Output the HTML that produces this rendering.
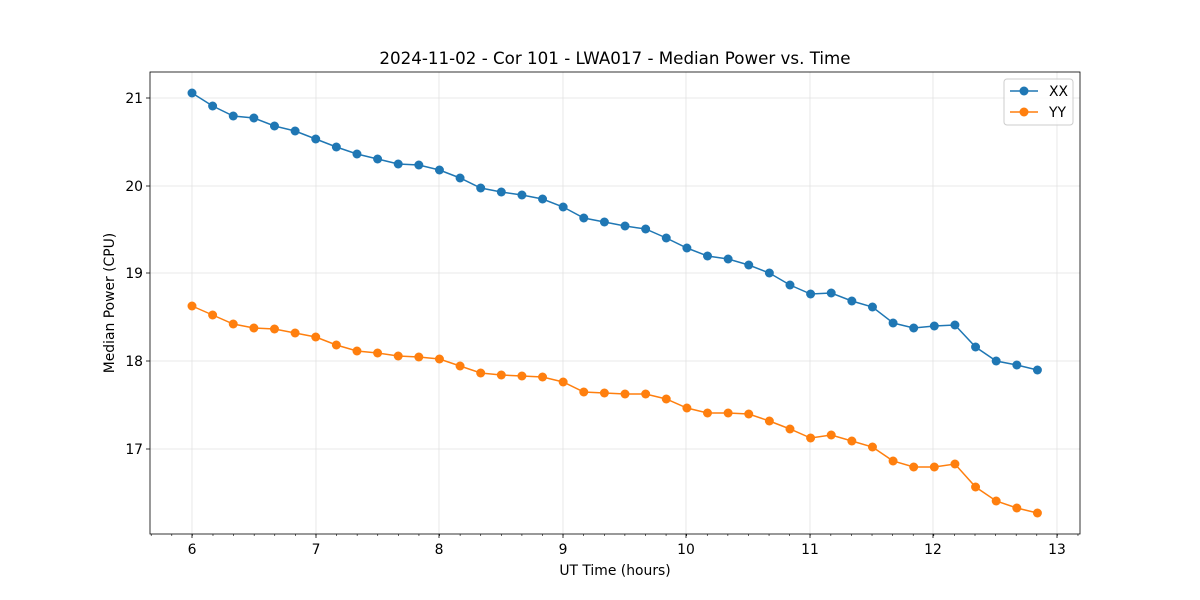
<!DOCTYPE html><html><head><style>body{margin:0;background:#fff}svg{display:block}text{font-family:"DejaVu Sans","Liberation Sans",sans-serif;fill:#000}</style></head><body>
<svg id="s" width="1200" height="600" xmlns="http://www.w3.org/2000/svg"></svg>
<script>
const XX=[93,106,116,118,126,131,139,147,154,159,164,165,170,178,188,192,195,199,207,218,222,226,229,238,248,256,259,265,273,285,294,293,301,307,323,328,326,325,347,361,365,370];
const YY=[306,315,324,328,329,333,337,345,351,353,356,357,359,366,373,375,376,377,382,392,393,394,394,399,408,413,413,414,421,429,438,435,441,447,461,467,467,464,487,501,508,513];
const X=i=>192+i*20.62;
let h='<rect width="1200" height="600" fill="#fff"/>';
const xt=[[6,192],[7,316],[8,439],[9,563],[10,686],[11,810],[12,933],[13,1057]];
const yt=[[21,98],[20,186],[19,273],[18,361],[17,449]];
for(const[t,x]of xt)h+=`<line x1="${x}" y1="72" x2="${x}" y2="534" stroke="#e2e2e2" stroke-width="0.8"/>`;
for(const[t,y]of yt)h+=`<line x1="150" y1="${y}" x2="1080" y2="${y}" stroke="#e2e2e2" stroke-width="0.8"/>`;
for(const[d,c]of[[XX,'#1f77b4'],[YY,'#ff7f0e']]){
h+=`<polyline fill="none" stroke="${c}" stroke-width="1.5" points="${d.map((y,i)=>X(i)+','+y).join(' ')}"/>`;
d.forEach((y,i)=>h+=`<circle cx="${X(i)}" cy="${y}" r="4.5" fill="${c}"/>`);}
h+='<rect x="150" y="72" width="930" height="462" fill="none" stroke="#000" stroke-width="0.8"/>';
for(let x=151.2;x<1080;x+=20.595)h+=`<line x1="${x}" y1="534" x2="${x}" y2="536" stroke="#000" stroke-width="0.6"/>`;
for(const[t,x]of xt)h+=`<line x1="${x}" y1="534" x2="${x}" y2="538" stroke="#000" stroke-width="0.8"/><text x="${x}" y="554" font-size="13.9" text-anchor="middle">${t}</text>`;
for(const[t,y]of yt)h+=`<line x1="146" y1="${y}" x2="150" y2="${y}" stroke="#000" stroke-width="0.8"/><text x="143" y="${y+5}" font-size="13.9" text-anchor="end">${t}</text>`;
h+='<text x="615" y="64" font-size="16.7" text-anchor="middle">2024-11-02 - Cor 101 - LWA017 - Median Power vs. Time</text>';
h+='<text x="615" y="575" font-size="13.9" text-anchor="middle">UT Time (hours)</text>';
h+='<text transform="translate(114,303) rotate(-90)" font-size="13.9" text-anchor="middle">Median Power (CPU)</text>';
h+='<rect x="1004" y="79" width="69" height="46" rx="3" fill="#fff" fill-opacity="0.8" stroke="#ccc"/>';
h+='<line x1="1010" y1="91" x2="1038" y2="91" stroke="#1f77b4" stroke-width="1.5"/><circle cx="1024" cy="91" r="4.5" fill="#1f77b4"/><text x="1049" y="96" font-size="13.9">XX</text>';
h+='<line x1="1010" y1="112" x2="1038" y2="112" stroke="#ff7f0e" stroke-width="1.5"/><circle cx="1024" cy="112" r="4.5" fill="#ff7f0e"/><text x="1049" y="117" font-size="13.9">YY</text>';
document.getElementById('s').innerHTML=h;
</script></body></html>
